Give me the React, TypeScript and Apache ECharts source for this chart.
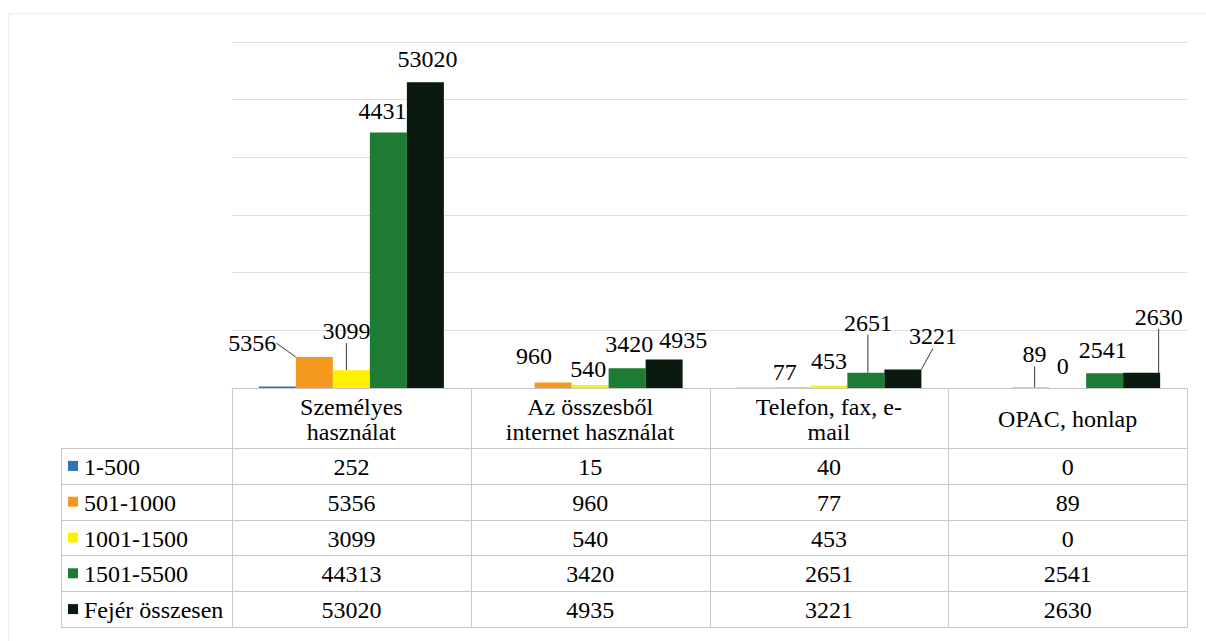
import React, { useEffect, useRef } from 'react';
import * as echarts from 'echarts';

// ---- data ----
const categories = [
  'Személyes\nhasználat',
  'Az összesből\ninternet használat',
  'Telefon, fax, e-\nmail',
  'OPAC, honlap',
];
const seriesNames = ['1-500', '501-1000', '1001-1500', '1501-5500', 'Fejér összesen'];
const s1_500 = [252, 15, 40, 0];
const s501_1000 = [5356, 960, 77, 89];
const s1001_1500 = [3099, 540, 453, 0];
const s1501_5500 = [44313, 3420, 2651, 2541];
const sFejer = [53020, 4935, 3221, 2630];
const seriesData = [s1_500, s501_1000, s1001_1500, s1501_5500, sFejer];

// ---- styles / layout (not data) ----
const colors = ['#2E75B6', '#F39A1E', '#FFF200', '#1E7B34', '#0B1A0E'];
const FONT = 'serif';
// label offsets (px) from the top-centre of each bar
const labelOffsets: (number[][] | null)[] = [
  null,
  [[-62, -14], [-19, -26], [-7, -16], [4, -33]],
  [[-5, -39], [-2, -16], [0, -24], [-5, -22]],
  [[0, -21], [2, -24], [2, -50], [-2, -23]],
  [[2, -23], [19, -20], [30, -33], [17, -56]],
];
const leaderLines = [
  [false, false, false, false],
  [true, false, false, true],
  [true, false, false, false],
  [false, false, true, false],
  [false, false, true, true],
];

const W = 1206;
const H = 641;
const PLOT_L = 232;
const PLOT_R = 1187;
const PLOT_T = 42;
const PLOT_B = 388;
const HEAD_B = 448;
const ROW_H = 35.8;
const TABLE_L = 61;
const LINE_C = '#c9c9c9';
const FS = 24;

function buildTable(): any[] {
  const els: any[] = [];
  const colW = (PLOT_R - PLOT_L) / categories.length;
  const bottom = HEAD_B + ROW_H * seriesNames.length;
  // faint outer chart border
  els.push({ type: 'line', shape: { x1: 8.5, y1: 13.5, x2: W, y2: 13.5 }, style: { stroke: '#ebebeb', lineWidth: 1 } });
  els.push({ type: 'line', shape: { x1: 8.5, y1: 13.5, x2: 8.5, y2: H }, style: { stroke: '#ebebeb', lineWidth: 1 } });
  // vertical lines
  for (let i = 0; i <= categories.length; i++) {
    const x = Math.round(PLOT_L + colW * i) + 0.5;
    els.push({ type: 'line', shape: { x1: x, y1: PLOT_B, x2: x, y2: bottom }, style: { stroke: LINE_C, lineWidth: 1 } });
  }
  els.push({ type: 'line', shape: { x1: TABLE_L + 0.5, y1: HEAD_B, x2: TABLE_L + 0.5, y2: bottom }, style: { stroke: LINE_C, lineWidth: 1 } });
  // horizontal lines
  for (let j = 0; j <= seriesNames.length; j++) {
    const y = Math.round(HEAD_B + ROW_H * j) + 0.5;
    els.push({ type: 'line', shape: { x1: TABLE_L, y1: y, x2: PLOT_R + 1, y2: y }, style: { stroke: LINE_C, lineWidth: 1 } });
  }
  // header texts
  categories.forEach((c, i) => {
    els.push({
      type: 'text',
      x: PLOT_L + colW * (i + 0.5),
      y: (PLOT_B + HEAD_B) / 2 + 1,
      style: { text: c, fontFamily: FONT, fontSize: FS, lineHeight: 25, fill: '#000', align: 'center', verticalAlign: 'middle' },
    });
  });
  // rows
  seriesNames.forEach((name, r) => {
    const cy = HEAD_B + ROW_H * (r + 0.5);
    els.push({ type: 'rect', shape: { x: 68, y: cy - 5, width: 10, height: 10 }, style: { fill: colors[r] } });
    els.push({
      type: 'text', x: 84, y: cy + 1,
      style: { text: name, fontFamily: FONT, fontSize: FS, fill: '#000', align: 'left', verticalAlign: 'middle' },
    });
    seriesData[r].forEach((v, i) => {
      els.push({
        type: 'text', x: PLOT_L + colW * (i + 0.5), y: cy + 1,
        style: { text: String(v), fontFamily: FONT, fontSize: FS, fill: '#000', align: 'center', verticalAlign: 'middle' },
      });
    });
  });
  return els;
}

function buildOption(): any {
  return {
    animation: false,
    grid: { left: PLOT_L, right: W - PLOT_R, top: PLOT_T, bottom: H - PLOT_B, containLabel: false },
    xAxis: {
      type: 'category',
      data: categories,
      axisLabel: { show: false },
      axisTick: { show: false },
      axisLine: { show: true, lineStyle: { color: LINE_C, width: 1 } },
      splitLine: { show: false },
    },
    yAxis: {
      type: 'value',
      min: 0,
      max: 60000,
      interval: 10000,
      axisLabel: { show: false },
      axisTick: { show: false },
      axisLine: { show: false },
      splitLine: { show: true, lineStyle: { color: '#dcdcdc', width: 1 } },
    },
    series: seriesNames.map((name, si) => ({
      type: 'bar',
      name,
      z: si === 4 ? 3 : 2,
      barGap: '0%',
      barCategoryGap: '22.5%',
      itemStyle: { color: colors[si] },
      data: seriesData[si].map((v, ci) => ({ value: v, labelLine: { show: leaderLines[si][ci] } })),
      label: {
        show: si > 0,
        position: 'top',
        fontFamily: FONT,
        fontSize: 24,
        color: '#000',
      },
      labelLine: { show: false, lineStyle: { color: '#3a3a3a', width: 1 } },
      labelLayout: si > 0
        ? (p: any) => {
            const off = (labelOffsets[si] as number[][])[p.dataIndex];
            return {
              x: p.rect.x + p.rect.width / 2 + off[0],
              y: p.rect.y + off[1],
              align: 'center',
              verticalAlign: 'middle',
            };
          }
        : undefined,
    })),
    graphic: buildTable(),
  };
}

export default function App() {
  const ref = useRef<HTMLDivElement>(null);
  useEffect(() => {
    if (!ref.current) return;
    const chart = echarts.init(ref.current, undefined, { renderer: 'svg' });
    chart.setOption(buildOption());
    let alive = true;
    const fontsApi: any = (document as any).fonts;
    if (fontsApi && fontsApi.ready) {
      fontsApi.ready.then(() => {
        if (alive) chart.setOption(buildOption(), true);
      });
    }
    return () => {
      alive = false;
      chart.dispose();
    };
  }, []);
  return (
    <div
      ref={ref}
      style={{ position: 'absolute', left: 0, top: 0, width: W, height: H, background: '#fff' }}
    />
  );
}
